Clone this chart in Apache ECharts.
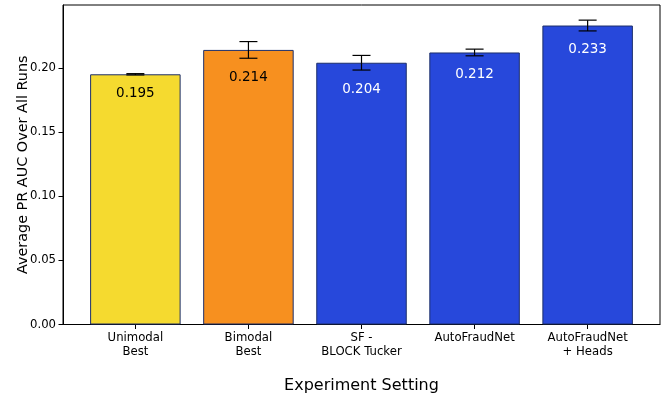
<!DOCTYPE html>
<html><head><meta charset="utf-8">
<script src="https://cdn.jsdelivr.net/npm/echarts@6/dist/echarts.min.js"></script>
<style>html,body{margin:0;padding:0;background:#fff}#c{width:667px;height:399px}</style>
</head><body><div id="c"></div>
<script>
const categories = ["Unimodal\nBest", "Bimodal\nBest", "SF -\nBLOCK Tucker", "AutoFraudNet", "AutoFraudNet\n+ Heads"];
const values = [0.195, 0.214, 0.204, 0.212, 0.233];
const errors = [0.0005, 0.0065, 0.0057, 0.0026, 0.0042];
const valueLabels = ["0.195", "0.214", "0.204", "0.212", "0.233"];
const barColors = ["#F5DA2F", "#F7901F", "#2748DB", "#2748DB", "#2748DB"];
const labelColors = ["#000", "#000", "#fff", "#fff", "#fff"];
const yTicks = [0, 0.05, 0.10, 0.15, 0.20];

const font = "DejaVu Sans";
const chart = echarts.init(document.getElementById('c'), null, {renderer: 'canvas'});
const positions = categories.map((_, i) => i);
chart.setOption({
  animation: false,
  grid: {left: 63, right: 7, top: 5, bottom: 74.5, outerBoundsMode: 'none', containLabel: false, show: true, borderColor: '#000', borderWidth: 1, backgroundColor: 'transparent'},
  xAxis: {
    type: 'value', min: -0.64, max: 4.64,
    axisLine: {show: true, onZero: false, lineStyle: {color: '#000', width: 1}},
    splitLine: {show: false},
    axisTick: {show: true, length: 4.5, lineStyle: {color: '#000'}, customValues: positions},
    axisLabel: {customValues: positions, formatter: v => categories[Math.round(v)] || '', fontFamily: font, fontSize: 11.7, color: '#000', lineHeight: 14, margin: 6},
    name: 'Experiment Setting', nameLocation: 'middle', nameGap: 53, nameMoveOverlap: false,
    nameTextStyle: {fontFamily: font, fontSize: 16, color: '#000'}
  },
  yAxis: {
    type: 'value', min: 0, max: 0.249,
    axisLine: {show: true, onZero: false, lineStyle: {color: '#000', width: 1}},
    splitLine: {show: false},
    axisTick: {show: true, length: 4.5, lineStyle: {color: '#000'}, customValues: yTicks},
    axisLabel: {customValues: yTicks, formatter: v => v.toFixed(2), fontFamily: font, fontSize: 11.7, color: '#000', margin: 7},
    name: 'Average PR AUC Over All Runs', nameLocation: 'middle', nameGap: 33, nameMoveOverlap: false,
    nameTextStyle: {fontFamily: font, fontSize: 14.4, color: '#000'}
  },
  series: [
    {
      type: 'bar', barWidth: 90.5,
      data: values.map((v, i) => ({value: [i, v], itemStyle: {color: barColors[i], borderColor: '#1d2f6b', borderWidth: 1}}))
    },
    {
      type: 'custom',
      data: values.map((v, i) => [i, v, errors[i]]),
      renderItem: function (params, api) {
        const i = api.value(0), v = api.value(1), e = api.value(2);
        const top = api.coord([i, v + e]);
        const bot = api.coord([i, v - e]);
        const cw = 9;
        return {
          type: 'group',
          children: [
            {type: 'line', shape: {x1: top[0], y1: top[1], x2: bot[0], y2: bot[1]}, style: {stroke: '#000', lineWidth: 1.2}},
            {type: 'line', shape: {x1: top[0] - cw, y1: top[1], x2: top[0] + cw, y2: top[1]}, style: {stroke: '#000', lineWidth: 1.2}},
            {type: 'line', shape: {x1: bot[0] - cw, y1: bot[1], x2: bot[0] + cw, y2: bot[1]}, style: {stroke: '#000', lineWidth: 1.2}},
            {type: 'text', x: bot[0], y: bot[1] + 19, style: {text: valueLabels[params.dataIndex], fill: labelColors[params.dataIndex], font: '13.5px "DejaVu Sans"', align: 'center', verticalAlign: 'middle'}}
          ]
        };
      },
      z: 5
    }
  ]
});
</script></body></html>
